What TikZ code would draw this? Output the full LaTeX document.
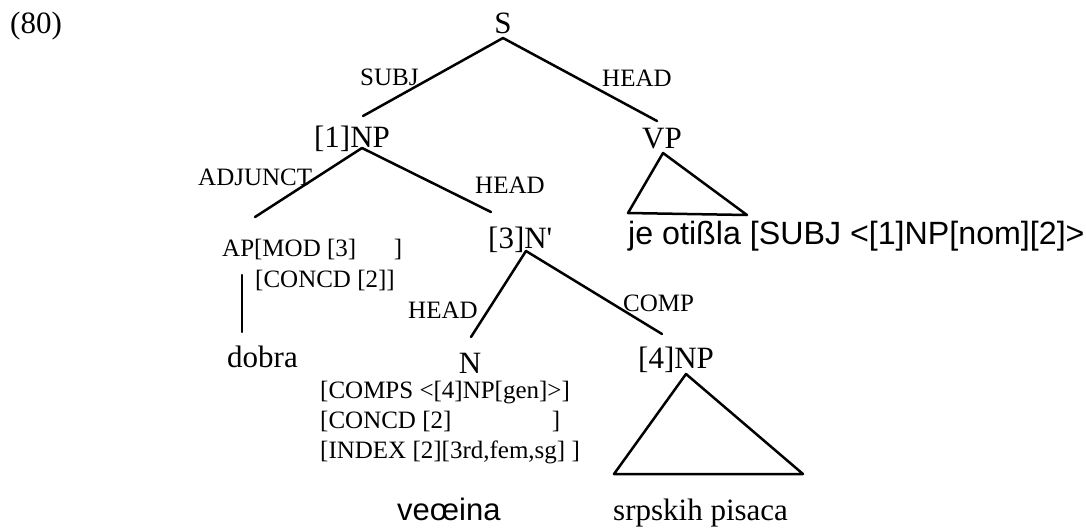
\documentclass[tikz,border=0pt]{standalone}
\usepackage{fontspec}
\setmainfont{Liberation Serif}
\newfontfamily\arialf{Liberation Sans}
\newfontfamily\serifplain{Liberation Serif}
\begin{document}
\begin{tikzpicture}[x=1pt,y=-1pt,
  mainf/.style={inner sep=0pt,font=\fontsize{31}{36}\selectfont},
  smallf/.style={inner sep=0pt,font=\fontsize{25}{31}\selectfont},
  sansf/.style={inner sep=0pt,font=\arialf\fontsize{31}{36}\selectfont},
  edge/.style={line width=2.5pt,line cap=round}]
\useasboundingbox[fill=white] (0,0) rectangle (1086,528);
% labels of nodes
\node[mainf,anchor=base west] (num) at (10,33) {(80)};
\node[mainf,anchor=base] (S) at (503,33) {S};
\node[mainf,anchor=base] (NP1) at (352,147) {[1]NP};
\node[mainf,anchor=base] (VP) at (662,148) {VP};
\node[smallf,anchor=base west] (AP) at (222,256) {\makebox[7.2em][l]{AP[MOD [3]\hfill]}};
\node[smallf,anchor=base west] (APc) at (255,287) {[CONCD [2]]};
\node[mainf,anchor=base west] (Nbar) at (488,248) {[3]N{\serifplain '}};
\node[sansf,anchor=base west,font=\arialf\fontsize{32.2}{38}\selectfont] (je) at (628,244) {je otißla [SUBJ <[1]NP[nom][2]>};
\node[mainf,anchor=base west] (dobra) at (227,367) {dobra};
\node[mainf,anchor=base] (N) at (470,373) {N};
\node[mainf,anchor=base west] (NP4) at (638,368) {[4]NP};
\node[smallf,anchor=base west] (f1) at (320,398) {[COMPS <[4]NP[gen]>]};
\node[smallf,anchor=base west] (f2) at (320,428) {\makebox[9.6em][l]{[CONCD [2]\hfill]}};
\node[smallf,anchor=base west] (f3) at (320,458) {[INDEX [2][3rd,fem,sg] ]};
\node[sansf,anchor=base west] (vec) at (397,520) {veœina};
\node[mainf,anchor=base west] (srp) at (613,520) {srpskih pisaca};
% edge labels
\node[smallf,anchor=base west] (lsubj) at (360,85) {SUBJ};
\node[smallf,anchor=base west] (lhead1) at (602,86) {HEAD};
\node[smallf,anchor=base west] (ladj) at (198,185) {ADJUNCT};
\node[smallf,anchor=base west] (lhead2) at (475,193) {HEAD};
\node[smallf,anchor=base west] (lhead3) at (408,318) {HEAD};
\node[smallf,anchor=base west] (lcomp) at (623,311) {COMP};
% connectors
\draw[edge] ([yshift=-5pt]S.base) -- ([xshift=11pt,yshift=31pt]NP1.base);
\draw[edge] ([yshift=-5pt]S.base) -- ([xshift=-5pt,yshift=27pt]VP.base);
\draw[edge] ([xshift=10pt,yshift=-1pt]NP1.base) -- ([xshift=33pt,yshift=39pt]AP.base west);
\draw[edge] ([xshift=10pt,yshift=-1pt]NP1.base) -- ([xshift=3pt,yshift=36pt]Nbar.base west);
\draw[edge] ([xshift=20pt,yshift=-19pt]AP.base west) -- ([xshift=15pt,yshift=35pt]dobra.base west);
\draw[edge] ([xshift=38pt,yshift=-3pt]Nbar.base west) -- ([xshift=1pt,yshift=36pt]N.base);
\draw[edge] ([xshift=38pt,yshift=-3pt]Nbar.base west) -- ([xshift=24pt,yshift=34pt]NP4.base west);
\draw[edge,line join=round] ([xshift=1pt,yshift=-5pt]VP.base) -- ([xshift=-34pt,yshift=-65pt]VP.base) -- ([xshift=85pt,yshift=-67pt]VP.base) -- cycle;
\draw[edge,line join=round] ([xshift=48pt,yshift=-6pt]NP4.base west) -- ([xshift=-24pt,yshift=-106pt]NP4.base west) -- ([xshift=165pt,yshift=-106pt]NP4.base west) -- cycle;
\end{tikzpicture}
\end{document}
